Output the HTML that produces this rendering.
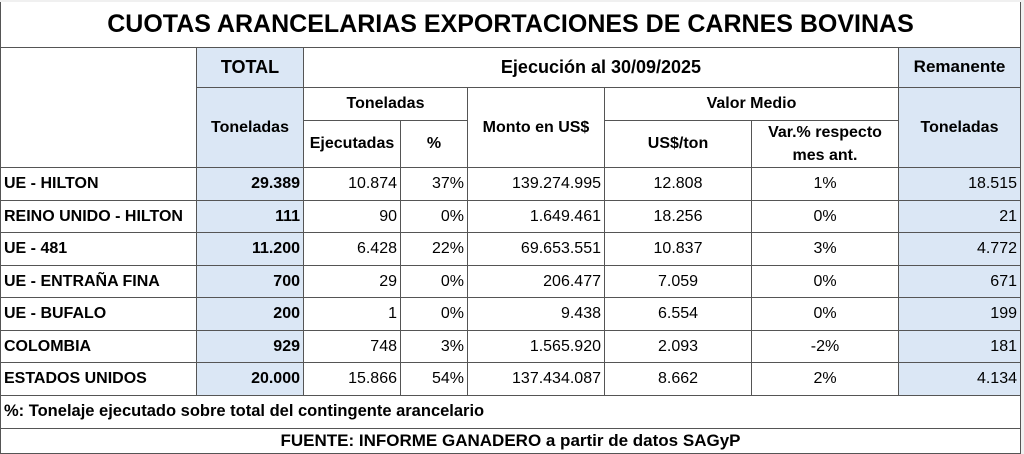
<!DOCTYPE html>
<html><head><meta charset="utf-8"><style>
body{margin:0;background:#fff;width:1024px;height:454px;overflow:hidden;font-family:"Liberation Sans",Arial,sans-serif;color:#000}
#w{position:absolute;left:0;top:0;width:1024px;height:454px;background:#f0f0f0}
.c{position:absolute;box-sizing:border-box;border-right:1px solid #555;border-bottom:1px solid #555;background:#fff;display:flex;align-items:center;justify-content:center;font-size:16px;padding:0 3px;text-align:center;line-height:1.45;white-space:nowrap}
.b{font-weight:bold}.bl{background:#dbe7f5}.l{justify-content:flex-start}.r{justify-content:flex-end}
</style></head><body><div id="w">
<div class="c b" style="left:0;top:2px;width:1021px;height:46px;font-size:25px;border-left:1px solid #555">CUOTAS ARANCELARIAS EXPORTACIONES DE CARNES BOVINAS</div>
<div class="c" style="left:0;top:48px;width:197px;height:120px;border-left:1px solid #555"></div>
<div class="c b bl" style="left:197px;top:48px;width:107px;height:40px;font-size:18px">TOTAL</div>
<div class="c b" style="left:304px;top:48px;width:595px;height:40px;font-size:18px">Ejecución al 30/09/2025</div>
<div class="c b bl" style="left:899px;top:48px;width:122px;height:40px;font-size:17px">Remanente</div>
<div class="c b bl" style="left:197px;top:88px;width:107px;height:80px">Toneladas</div>
<div class="c b" style="left:304px;top:88px;width:164px;height:33px">Toneladas</div>
<div class="c b" style="left:468px;top:88px;width:137px;height:80px">Monto en US$</div>
<div class="c b" style="left:605px;top:88px;width:294px;height:33px">Valor Medio</div>
<div class="c b bl" style="left:899px;top:88px;width:122px;height:80px">Toneladas</div>
<div class="c b" style="left:304px;top:121px;width:97px;height:47px">Ejecutadas</div>
<div class="c b" style="left:401px;top:121px;width:67px;height:47px">%</div>
<div class="c b" style="left:605px;top:121px;width:147px;height:47px">US$/ton</div>
<div class="c b" style="left:752px;top:121px;width:147px;height:47px">Var.% respecto<br>mes ant.</div>
</div>
<script>
var rows=[["UE - HILTON","29.389","10.874","37%","139.274.995","12.808","1%","18.515"],
["REINO UNIDO - HILTON","111","90","0%","1.649.461","18.256","0%","21"],
["UE - 481","11.200","6.428","22%","69.653.551","10.837","3%","4.772"],
["UE - ENTRAÑA FINA","700","29","0%","206.477","7.059","0%","671"],
["UE - BUFALO","200","1","0%","9.438","6.554","0%","199"],
["COLOMBIA","929","748","3%","1.565.920","2.093","-2%","181"],
["ESTADOS UNIDOS","20.000","15.866","54%","137.434.087","8.662","2%","4.134"]];
var xs=[0,197,304,401,468,605,752,899,1021],ys=[168,201,233,266,298,331,363,396];
var h='';
rows.forEach(function(r,i){for(var j=0;j<8;j++){var cls='c';if(j==0)cls+=' b l';else if(j==1)cls+=' b r bl';else if(j==7)cls+=' r bl';else if(j<5)cls+=' r';
var st='left:'+xs[j]+'px;top:'+ys[i]+'px;width:'+(xs[j+1]-xs[j])+'px;height:'+(ys[i+1]-ys[i])+'px;'+(j==0?'border-left:1px solid #555;':'');
h+='<div class="'+cls+'" style="'+st+'">'+r[j]+'</div>';}});
h+='<div class="c b l" style="left:0;top:396px;width:1021px;height:33px;font-size:16.5px;border-left:1px solid #555">%: Tonelaje ejecutado sobre total del contingente arancelario</div>';
h+='<div class="c b" style="left:0;top:429px;width:1021px;height:25px;font-size:17px;border-left:1px solid #555">FUENTE: INFORME GANADERO a partir de datos SAGyP</div>';
document.getElementById('w').insertAdjacentHTML('beforeend',h);
</script>
</body></html>
